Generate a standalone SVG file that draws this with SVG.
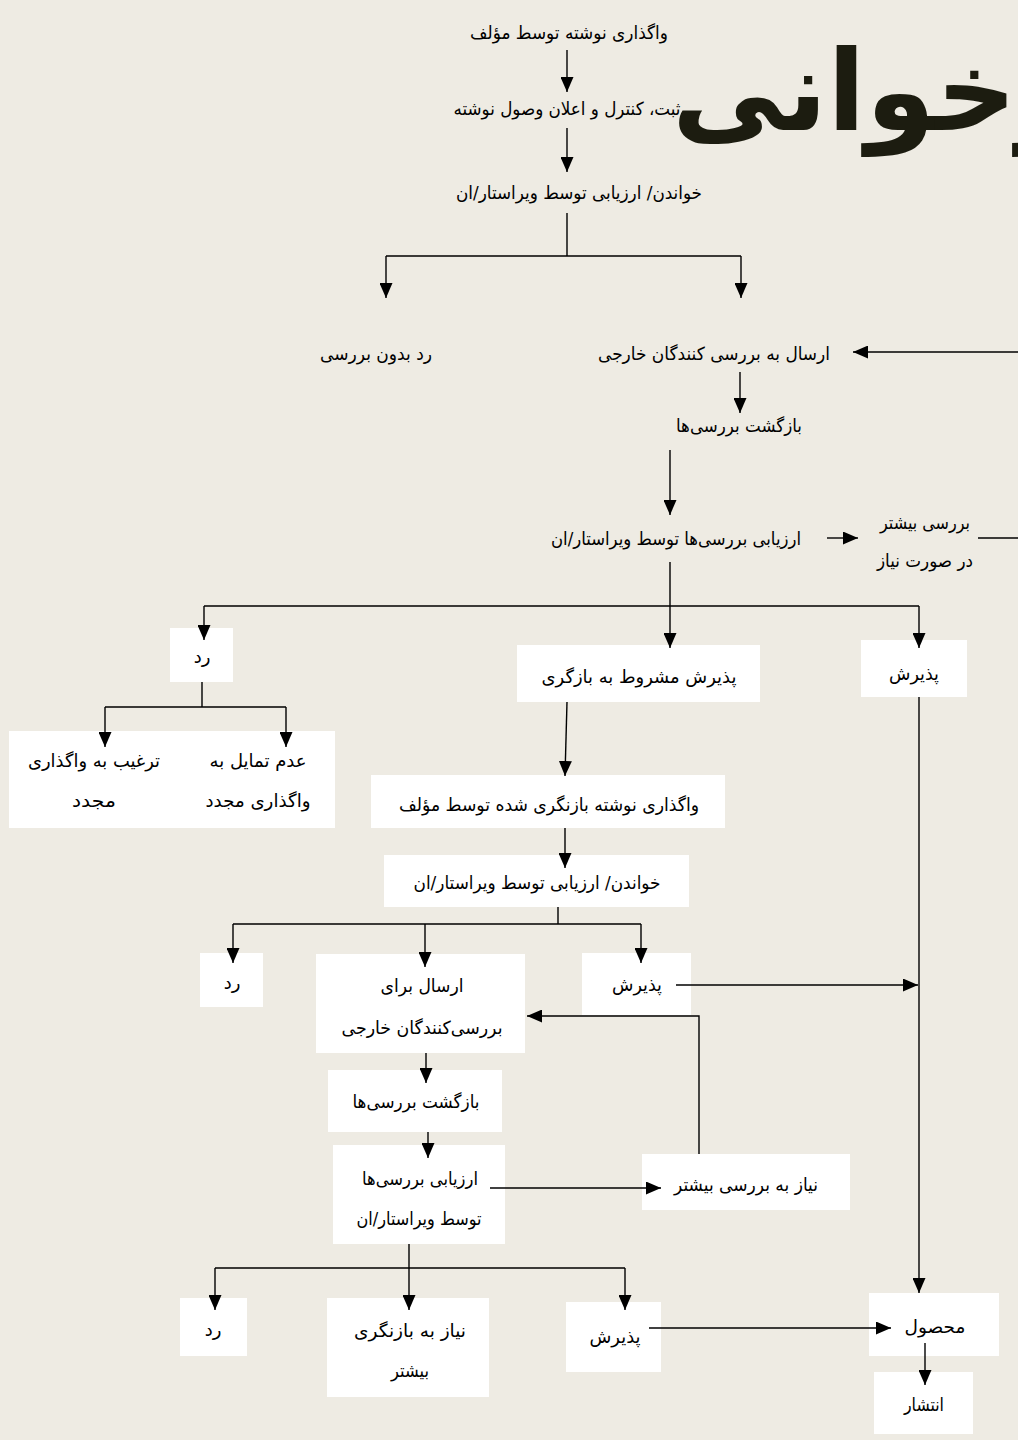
<svg xmlns="http://www.w3.org/2000/svg" width="1018" height="1440" viewBox="0 0 1018 1440">
<defs>
<marker id="ah" viewBox="0 0 15 13" refX="15" refY="6.5" markerWidth="15" markerHeight="13" markerUnits="userSpaceOnUse" orient="auto">
<path d="M0,0 L15,6.5 L0,13 z" fill="#000"/>
</marker>
<style>
.bg{fill:#EEEBE3}
.box{fill:#fff}
.t{font-family:"DejaVu Sans","Noto Sans",sans-serif;font-size:18px;fill:#000;text-anchor:middle;dominant-baseline:central}
.c{fill:none;stroke:#000;stroke-width:1.4}
.a{marker-end:url(#ah)}
.title{font-family:"DejaVu Sans",sans-serif;font-weight:bold;font-size:112px;fill:#1c1c10}
</style>
</defs>
<rect class="bg" x="0" y="0" width="1018" height="1440"/>

<g id="n1"><text class="t" x="569" y="32" textLength="198" lengthAdjust="spacingAndGlyphs">واگذاری نوشته توسط مؤلف</text></g>
<g id="n2"><text class="t" x="567" y="108" textLength="227" lengthAdjust="spacingAndGlyphs">ثبت، کنترل و اعلان وصول نوشته</text></g>
<g id="n3"><text class="t" x="579" y="192" textLength="246" lengthAdjust="spacingAndGlyphs">خواندن/ ارزیابی توسط ویراستار/ان</text></g>
<g id="n4"><text class="t" x="376" y="353" textLength="112" lengthAdjust="spacingAndGlyphs">رد بدون بررسی</text></g>
<g id="n5"><text class="t" x="714" y="353" textLength="232" lengthAdjust="spacingAndGlyphs">ارسال به بررسی کنندگان خارجی</text></g>
<g id="n6"><text class="t" x="739" y="425" textLength="126" lengthAdjust="spacingAndGlyphs">بازگشت بررسی‌ها</text></g>
<g id="n7"><text class="t" x="676" y="538" textLength="250" lengthAdjust="spacingAndGlyphs">ارزیابی بررسی‌ها توسط ویراستار/ان</text></g>
<g id="n8"><text class="t" x="925" y="522" textLength="90" lengthAdjust="spacingAndGlyphs">بررسی بیشتر</text><text class="t" x="925" y="560" textLength="96" lengthAdjust="spacingAndGlyphs">در صورت نیاز</text></g>

<g id="b1"><rect class="box" x="170" y="628" width="63" height="54"/><text class="t" x="202" y="656">رد</text></g>
<g id="b2"><rect class="box" x="517" y="645" width="243" height="57"/><text class="t" x="639" y="676" textLength="195" lengthAdjust="spacingAndGlyphs">پذیرش مشروط به بازگری</text></g>
<g id="b3"><rect class="box" x="861" y="640" width="106" height="57"/><text class="t" x="914" y="673" textLength="50" lengthAdjust="spacingAndGlyphs">پذیرش</text></g>
<g id="b4"><rect class="box" x="9" y="731" width="326" height="97"/>
<text class="t" x="94" y="760" textLength="132" lengthAdjust="spacingAndGlyphs">ترغیب به واگذاری</text>
<text class="t" x="94" y="800" textLength="44" lengthAdjust="spacingAndGlyphs">مجدد</text>
<text class="t" x="258" y="760" textLength="97" lengthAdjust="spacingAndGlyphs">عدم تمایل به</text>
<text class="t" x="258" y="800" textLength="105" lengthAdjust="spacingAndGlyphs">واگذاری مجدد</text></g>
<g id="b5"><rect class="box" x="371" y="775" width="354" height="53"/><text class="t" x="549" y="804" textLength="300" lengthAdjust="spacingAndGlyphs">واگذاری نوشته بازنگری شده توسط مؤلف</text></g>
<g id="b6"><rect class="box" x="384" y="855" width="305" height="52"/><text class="t" x="537" y="882" textLength="247" lengthAdjust="spacingAndGlyphs">خواندن/ ارزیابی توسط ویراستار/ان</text></g>
<g id="b7"><rect class="box" x="200" y="953" width="63" height="54"/><text class="t" x="232" y="982">رد</text></g>
<g id="b8"><rect class="box" x="316" y="954" width="209" height="99"/>
<text class="t" x="422" y="985" textLength="83" lengthAdjust="spacingAndGlyphs">ارسال برای</text>
<text class="t" x="422" y="1027" textLength="161" lengthAdjust="spacingAndGlyphs">بررسی‌کنندگان خارجی</text></g>
<g id="b9"><rect class="box" x="582" y="953" width="109" height="62"/><text class="t" x="637" y="984" textLength="50" lengthAdjust="spacingAndGlyphs">پذیرش</text></g>
<g id="b10"><rect class="box" x="328" y="1070" width="174" height="62"/><text class="t" x="416" y="1101" textLength="127" lengthAdjust="spacingAndGlyphs">بازگشت بررسی‌ها</text></g>
<g id="b11"><rect class="box" x="333" y="1145" width="172" height="99"/>
<text class="t" x="420" y="1178" textLength="116" lengthAdjust="spacingAndGlyphs">ارزیابی بررسی‌ها</text>
<text class="t" x="419" y="1218" textLength="125" lengthAdjust="spacingAndGlyphs">توسط ویراستار/ان</text></g>
<g id="b12"><rect class="box" x="642" y="1154" width="208" height="56"/><text class="t" x="746" y="1184" textLength="144" lengthAdjust="spacingAndGlyphs">نیاز به بررسی بیشتر</text></g>
<g id="b13"><rect class="box" x="180" y="1298" width="67" height="58"/><text class="t" x="213" y="1329">رد</text></g>
<g id="b14"><rect class="box" x="327" y="1298" width="162" height="99"/>
<text class="t" x="410" y="1330" textLength="112" lengthAdjust="spacingAndGlyphs">نیاز به بازنگری</text>
<text class="t" x="410" y="1370" textLength="38" lengthAdjust="spacingAndGlyphs">بیشتر</text></g>
<g id="b15"><rect class="box" x="566" y="1302" width="95" height="70"/><text class="t" x="615" y="1336" textLength="51" lengthAdjust="spacingAndGlyphs">پذیرش</text></g>
<g id="b16"><rect class="box" x="869" y="1293" width="130" height="63"/><text class="t" x="935" y="1326" textLength="61" lengthAdjust="spacingAndGlyphs">محصول</text></g>
<g id="b17"><rect class="box" x="874" y="1372" width="99" height="62"/><text class="t" x="924" y="1404" textLength="40" lengthAdjust="spacingAndGlyphs">انتشار</text></g>

<g id="connectors">
<path class="c a" d="M567,50 V92"/>
<path class="c a" d="M567,128 V172"/>
<path class="c" d="M567,213 V256 M386,256 H741"/>
<path class="c a" d="M386,256 V298"/>
<path class="c a" d="M741,256 V298"/>
<path class="c a" d="M1018,352 H853"/>
<path class="c a" d="M740,372 V413"/>
<path class="c a" d="M670,450 V515"/>
<path class="c a" d="M827,538 H858"/>
<path class="c" d="M978,538 H1018"/>
<path class="c" d="M670,562 V606 M204,606 H919"/>
<path class="c a" d="M204,606 V640"/>
<path class="c a" d="M670,606 V648"/>
<path class="c a" d="M919,606 V648"/>
<path class="c a" d="M919,697 V1293"/>
<path class="c" d="M202,682 V707 M105,707 H286"/>
<path class="c a" d="M105,707 V747"/>
<path class="c a" d="M286,707 V747"/>
<path class="c a" d="M567,702 L565,776"/>
<path class="c a" d="M565,828 V868"/>
<path class="c" d="M558,907 V924 M233,924 H641"/>
<path class="c a" d="M233,924 V963"/>
<path class="c a" d="M425,924 V967"/>
<path class="c a" d="M641,924 V963"/>
<path class="c a" d="M676,985 H918"/>
<path class="c a" d="M426,1053 V1083"/>
<path class="c a" d="M428,1132 V1158"/>
<path class="c a" d="M490,1188 H661"/>
<path class="c a" d="M699,1154 V1016 H527"/>
<path class="c" d="M409,1244 V1268 M215,1268 H625"/>
<path class="c a" d="M215,1268 V1310"/>
<path class="c a" d="M409,1268 V1310"/>
<path class="c a" d="M625,1268 V1310"/>
<path class="c a" d="M649,1328 H891"/>
<path class="c a" d="M925,1343 V1385"/>
</g>

<g id="title"><text class="title" x="672" y="130">رخوانی</text></g>
</svg>
